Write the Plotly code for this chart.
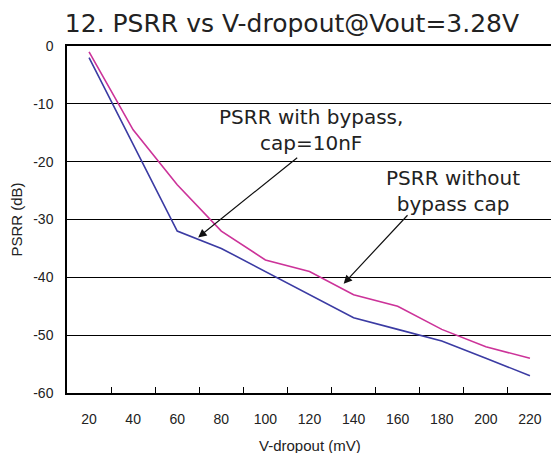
import plotly.graph_objects as go

v_dropout = [20, 40, 60, 80, 100, 120, 140, 160, 180, 200, 220]
psrr_bypass = [-2, -17, -32, -35, -39, -43, -47, -49, -51, -54, -57]
psrr_no_bypass = [-1, -14.5, -24, -32, -37, -39, -43, -45, -49, -52, -54]

x_tick_vals = [20, 40, 60, 80, 100, 120, 140, 160, 180, 200, 220]
x_tick_text = [str(v) for v in x_tick_vals]
x_minor_vals = [30, 50, 70, 90, 110, 130, 150, 170, 190, 210]
y_tick_vals = [0, -10, -20, -30, -40, -50, -60]
y_tick_text = ["0", "-10", "-20", "-30", "-40", "-50", "-60"]

BLUE = "#3b3ba3"
PINK = "#cc3399"

fig = go.Figure()
fig.add_trace(go.Scatter(x=v_dropout, y=psrr_no_bypass, mode="lines",
                         line=dict(color=PINK, width=1.6), showlegend=False))
fig.add_trace(go.Scatter(x=v_dropout, y=psrr_bypass, mode="lines",
                         line=dict(color=BLUE, width=1.6), showlegend=False))

SANS = "Liberation Sans, Arial, sans-serif"
tick_font = dict(family=SANS, size=14, color="#222")
ann_font = dict(family="DejaVu Sans, sans-serif", size=20, color="#222")

W, H = 551, 445
fig.update_layout(
    width=W, height=H,
    margin=dict(l=59, r=7, t=38, b=60, autoexpand=False),
    paper_bgcolor="white", plot_bgcolor="white",
    title=dict(text="12. PSRR vs V-dropout@Vout=3.28V", xref="container", yref="container",
               x=284 / W, xanchor="center", y=1 - 15 / H, yanchor="middle",
               font=dict(family="DejaVu Sans, sans-serif", size=25, color="#222")),
    xaxis=dict(range=[10, 230], tickmode="array", tickvals=x_tick_vals, ticktext=x_tick_text,
               ticks="", showgrid=False, zeroline=False, automargin=False,
               showline=True, mirror=True, linecolor="black", linewidth=1.5,
               tickfont=tick_font, ticklabelstandoff=12,
               minor=dict(tickmode="array", tickvals=x_minor_vals, ticks="inside",
                          ticklen=6, tickcolor="black", tickwidth=1.2, showgrid=False)),
    yaxis=dict(range=[-60, 0], tickmode="array", tickvals=y_tick_vals, ticktext=y_tick_text,
               ticks="", showgrid=True, gridcolor="black", gridwidth=1.2, zeroline=False,
               showline=True, mirror=True, linecolor="black", linewidth=1.5,
               tickfont=tick_font, ticklabelstandoff=9,
               title=dict(text="PSRR (dB)", font=dict(family=SANS, size=15, color="#222"),
                          standoff=8)),
)

# x-axis title
fig.add_annotation(x=0.5, y=0, xref="paper", yref="paper", yshift=-52,
                   xanchor="center", yanchor="middle", showarrow=False,
                   text="V-dropout (mV)", font=dict(family=SANS, size=15, color="#222"))

fig.add_annotation(x=120.5, y=-14.6, xref="x", yref="y", showarrow=False,
                   text="PSRR with bypass,<br>cap=10nF", font=ann_font, align="center")
fig.add_annotation(x=185, y=-25.1, xref="x", yref="y", showarrow=False,
                   text="PSRR without<br>bypass cap", font=ann_font, align="center")

fig.add_annotation(x=69.5, y=-33.1, ax=115.1, ay=-19.1, xref="x", yref="y",
                   axref="x", ayref="y", text="", showarrow=True,
                   arrowhead=2, arrowsize=1.4, arrowwidth=1.2, arrowcolor="#111")
fig.add_annotation(x=135.5, y=-41.1, ax=165.1, ay=-29.0, xref="x", yref="y",
                   axref="x", ayref="y", text="", showarrow=True,
                   arrowhead=2, arrowsize=1.4, arrowwidth=1.2, arrowcolor="#111")

fig.write_html("out.html")
